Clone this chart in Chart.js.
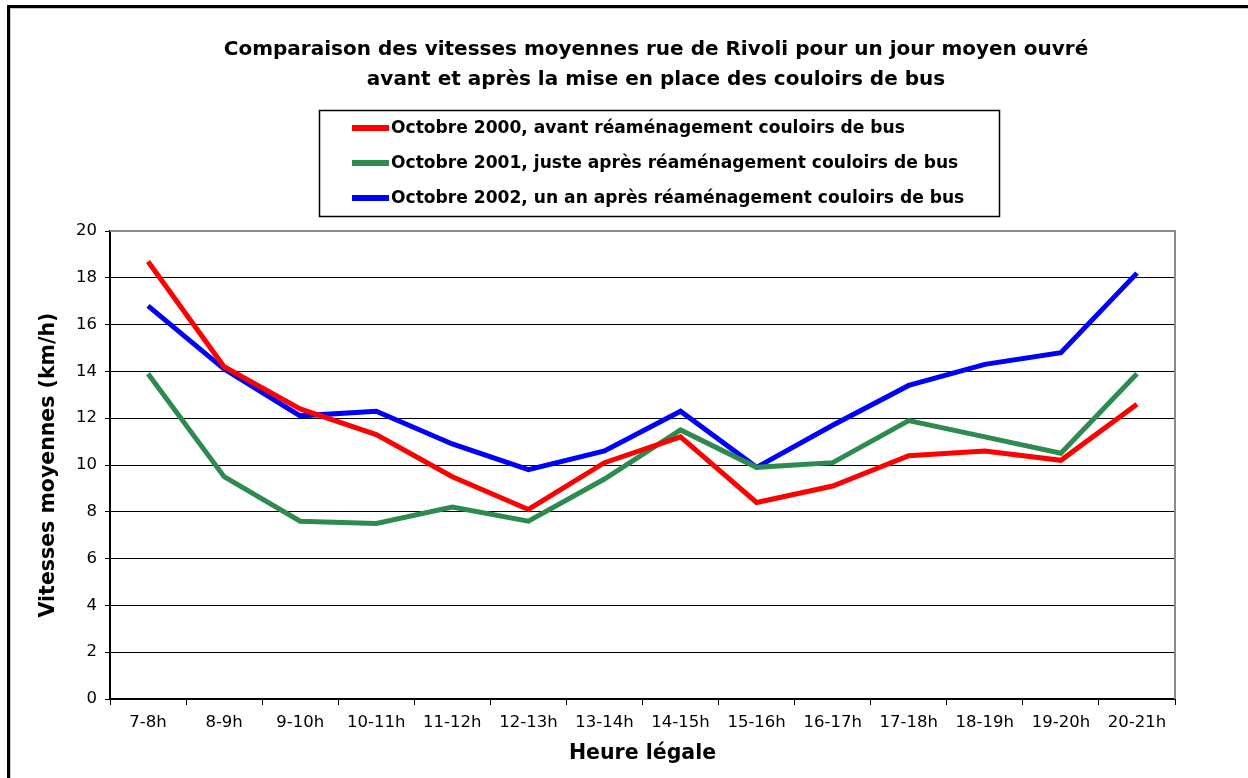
<!DOCTYPE html>
<html>
<head>
<meta charset="utf-8">
<script src="https://cdn.jsdelivr.net/npm/chart.js@4/dist/chart.umd.min.js"></script>
<style>
html,body{margin:0;padding:0;background:#fff;}
#wrap{position:relative;width:1248px;height:778px;}
</style>
</head>
<body>
<div id="wrap"><canvas id="c" width="1248" height="778"></canvas></div>
<script>
const categories = ["7-8h","8-9h","9-10h","10-11h","11-12h","12-13h","13-14h","14-15h","15-16h","16-17h","17-18h","18-19h","19-20h","20-21h"];
const oct2000 = [18.7,14.2,12.4,11.3,9.5,8.1,10.1,11.2,8.4,9.1,10.4,10.6,10.2,12.6];
const oct2001 = [13.9,9.5,7.6,7.5,8.2,7.6,9.4,11.5,9.9,10.1,11.9,11.2,10.5,13.9];
const oct2002 = [16.8,14.1,12.1,12.3,10.9,9.8,10.6,12.3,9.9,11.7,13.4,14.3,14.8,18.2];
const seriesLabels = [
  "Octobre 2000, avant réaménagement couloirs de bus",
  "Octobre 2001, juste après réaménagement couloirs de bus",
  "Octobre 2002, un an après réaménagement couloirs de bus"
];
const titleLines = [
  "Comparaison des vitesses moyennes rue de Rivoli pour un jour moyen ouvré",
  "avant et après la mise en place des couloirs de bus"
];
const yTitle = "Vitesses moyennes (km/h)";
const xTitle = "Heure légale";
const colors = ["#ff0000","#2e8b50","#0000ff"];

const FONT = "'DejaVu Sans', 'Liberation Sans', Arial, sans-serif";

const decor = {
  id: 'decor',
  beforeDraw(chart) {
    const ctx = chart.ctx;
    ctx.save();
    ctx.fillStyle = '#fff';
    ctx.fillRect(0,0,chart.width,chart.height);
    ctx.fillStyle = '#000';
    ctx.fillRect(7,5,chart.width-7,3);
    ctx.fillRect(7,5,3,chart.height-5);
    ctx.fillStyle = '#c8c8c8';
    ctx.fillRect(10,8,chart.width-10,1);
    ctx.fillRect(10,8,1,chart.height-8);
    ctx.restore();
  },
  beforeDatasetsDraw(chart) {
    const ctx = chart.ctx, a = chart.chartArea;
    ctx.save();
    ctx.strokeStyle = '#8a8a8a';
    ctx.lineWidth = 2;
    ctx.beginPath();
    ctx.moveTo(a.left, a.top);
    ctx.lineTo(a.right, a.top);
    ctx.lineTo(a.right, a.bottom);
    ctx.stroke();
    ctx.restore();
  },
  afterDraw(chart) {
    const ctx = chart.ctx;
    ctx.save();
    ctx.fillStyle = '#000';
    ctx.textAlign = 'center';
    ctx.textBaseline = 'middle';
    ctx.font = "bold 20px " + FONT;
    ctx.fillText(titleLines[0], 656, 50);
    ctx.fillText(titleLines[1], 656, 80);
    ctx.strokeStyle = '#000';
    ctx.lineWidth = 1.5;
    ctx.strokeRect(319.5, 110.5, 680, 106);
    ctx.font = "bold 17.1px " + FONT;
    ctx.textAlign = 'left';
    const ys = [128, 163, 198];
    chart.data.datasets.forEach((ds, i) => {
      ctx.fillStyle = ds.borderColor;
      ctx.fillRect(352, ys[i]-3, 37, 6);
      ctx.fillStyle = '#000';
      ctx.fillText(ds.label, 391, ys[i]+1);
    });
    ctx.restore();
  }
};

new Chart(document.getElementById('c'), {
  type: 'line',
  data: {
    labels: categories,
    datasets: [oct2000, oct2001, oct2002].map((d, i) => ({
      label: seriesLabels[i],
      data: d,
      borderColor: colors[i],
      backgroundColor: colors[i],
      borderWidth: 5,
      pointRadius: 0,
      tension: 0,
      fill: false
    }))
  },
  options: {
    responsive: false,
    animation: false,
    layout: { padding: { top: 231, right: 73, bottom: 0, left: 0 } },
    plugins: {
      legend: { display: false },
      title: { display: false },
      tooltip: { enabled: false }
    },
    scales: {
      x: {
        offset: true,
        grid: { offset: true, drawOnChartArea: false, drawTicks: true, tickLength: 6, color: '#000', lineWidth: 1 },
        border: { display: true, color: '#000', width: 2 },
        ticks: { color: '#000', font: { family: FONT, size: 16.5 }, padding: 8, maxRotation: 0, autoSkip: false },
        title: { display: true, text: xTitle, color: '#000', font: { family: FONT, size: 20.5, weight: 'bold' }, padding: { top: 2, bottom: 12 } },
        afterFit(s) { s.height = 79; }
      },
      y: {
        min: 0, max: 20,
        ticks: { stepSize: 2, color: '#000', font: { family: FONT, size: 16.5 }, padding: 8 },
        grid: { color: '#000', lineWidth: 1, tickLength: 5 },
        border: { display: true, color: '#000', width: 2 },
        title: { display: true, text: yTitle, color: '#000', font: { family: FONT, size: 20.5, weight: 'bold' }, padding: { top: 36, bottom: 0 } },
        afterFit(s) { s.width = 110; }
      }
    }
  },
  plugins: [decor]
});
</script>
</body>
</html>
